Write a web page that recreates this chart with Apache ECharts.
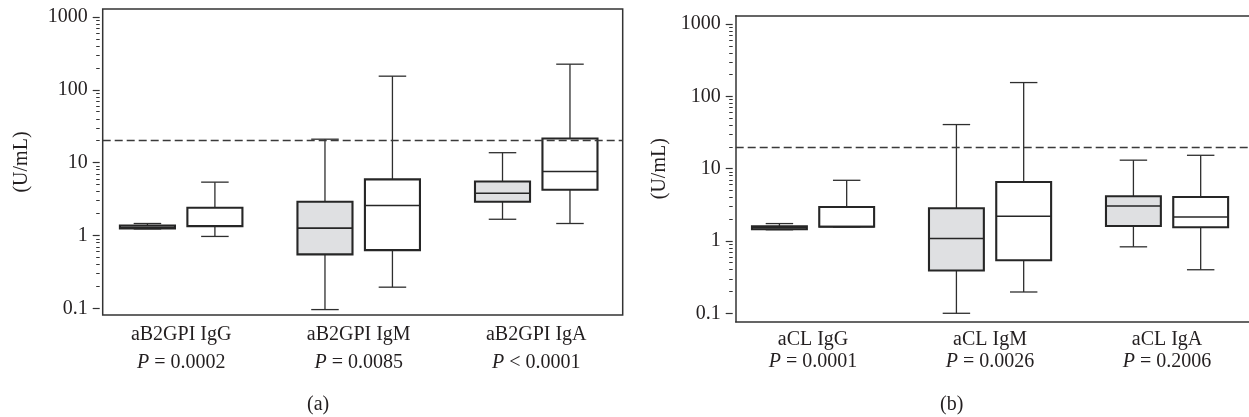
<!DOCTYPE html>
<html><head><meta charset="utf-8">
<script src="https://cdn.jsdelivr.net/npm/echarts@6/dist/echarts.min.js"></script>
<style>html,body{margin:0;padding:0;background:#fff}#c{width:1249px;height:417px}</style>
</head><body><div id="c"></div>
<script>
// ---- data (U/mL): [lower whisker, Q1, median, Q3, upper whisker] ----
const leftCategories = ['aB2GPI IgG', 'aB2GPI IgM', 'aB2GPI IgA'];
const leftPValues = ['= 0.0002', '= 0.0085', '< 0.0001'];
const leftGrey = [
  [1.23, 1.25, 1.3, 1.37, 1.46],
  [0.096, 0.55, 1.26, 2.9, 21],
  [1.67, 2.9, 3.8, 5.5, 13.7]
];
const leftWhite = [
  [0.97, 1.34, 1.36, 2.4, 5.4],
  [0.195, 0.63, 2.58, 5.9, 154],
  [1.46, 4.25, 7.57, 21.5, 225]
];
const rightCategories = ['aCL IgG', 'aCL IgM', 'aCL IgA'];
const rightPValues = ['= 0.0001', '= 0.0026', '= 0.2006'];
const rightGrey = [
  [1.43, 1.45, 1.52, 1.6, 1.74],
  [0.1, 0.39, 1.08, 2.83, 40.7],
  [0.83, 1.61, 3.05, 4.15, 13.1]
];
const rightWhite = [
  [1.56, 1.57, 1.58, 2.95, 6.9],
  [0.197, 0.54, 2.2, 6.55, 155],
  [0.40, 1.55, 2.15, 4.06, 15.3]
];
const cutoff = 20;
const majorTicks = [0.1, 1, 10, 100, 1000];
const minorTicks = [0.2,0.3,0.4,0.5,0.6,0.7,0.8,0.9, 2,3,4,5,6,7,8,9, 20,30,40,50,60,70,80,90, 200,300,400,500,600,700,800,900];
const panelLabels = ['(a)', '(b)'];

// ---- styling ----
const FONT = "'Liberation Serif', 'DejaVu Serif', serif";
const TXT = '#231f20';
const FRAME = { color: '#333', width: 1.5 };
const BOX_W = 0.31, CAP_W = 0.155, OFFSET = 0.19;

function makeRender(offset, fill) {
  return function (params, api) {
    const x = api.value(0) + offset;
    const lo = api.coord([x, api.value(1)]);
    const q1 = api.coord([x, api.value(2)]);
    const med = api.coord([x, api.value(3)]);
    const q3 = api.coord([x, api.value(4)]);
    const hi = api.coord([x, api.value(5)]);
    const l = api.coord([x - BOX_W / 2, api.value(3)])[0];
    const r = api.coord([x + BOX_W / 2, api.value(3)])[0];
    const cl = api.coord([x - CAP_W / 2, api.value(3)])[0];
    const cr = api.coord([x + CAP_W / 2, api.value(3)])[0];
    const cx = med[0];
    const wStyle = { stroke: '#2e2e2e', lineWidth: 1.3 };
    return {
      type: 'group',
      children: [
        { type: 'line', shape: { x1: cx, y1: q3[1], x2: cx, y2: hi[1] }, style: wStyle },
        { type: 'line', shape: { x1: cx, y1: q1[1], x2: cx, y2: lo[1] }, style: wStyle },
        { type: 'line', shape: { x1: cl, y1: hi[1], x2: cr, y2: hi[1] }, style: wStyle },
        { type: 'line', shape: { x1: cl, y1: lo[1], x2: cr, y2: lo[1] }, style: wStyle },
        { type: 'rect', shape: { x: l, y: q3[1], width: r - l, height: q1[1] - q3[1] },
          style: { fill: fill, stroke: '#262626', lineWidth: 2.1 } },
        { type: 'line', shape: { x1: l, y1: med[1], x2: r, y2: med[1] }, style: { stroke: '#262626', lineWidth: 1.6 } }
      ]
    };
  };
}

function xAxisFor(gridIndex, min, max, cats, ps, lh, margin, showLine) {
  return {
    type: 'value', gridIndex: gridIndex, min: min, max: max, position: 'bottom',
    axisLine: { show: showLine, lineStyle: FRAME }, axisTick: { show: false }, splitLine: { show: false },
    axisLabel: {
      customValues: [1, 2, 3], margin: margin,
      formatter: function (v) { const i = Math.round(v) - 1; return '{n|' + cats[i] + '}\n{i|P}{n| ' + ps[i] + '}'; },
      rich: {
        n: { fontFamily: FONT, fontSize: 20, color: TXT, lineHeight: lh },
        i: { fontFamily: FONT, fontSize: 20, color: TXT, fontStyle: 'italic', lineHeight: lh }
      }
    }
  };
}
function xFrameTop(gridIndex, min, max) {
  return {
    type: 'value', gridIndex: gridIndex, min: min, max: max, position: 'top',
    axisLine: { show: true, lineStyle: FRAME }, axisTick: { show: false }, axisLabel: { show: false }, splitLine: { show: false }
  };
}
function yAxisFor(gridIndex, min, max, nameGap, margin) {
  return {
    type: 'log', logBase: 10, gridIndex: gridIndex, min: min, max: max, offset: 3, position: 'left',
    name: '(U/mL)', nameLocation: 'middle', nameGap: nameGap,
    nameTextStyle: { fontFamily: FONT, fontSize: 20, color: TXT },
    axisLine: { show: false }, splitLine: { show: false },
    axisTick: { show: true, length: 7, customValues: majorTicks, lineStyle: { color: '#333', width: 1.2 } },
    axisLabel: { customValues: majorTicks, margin: margin, fontFamily: FONT, fontSize: 20, color: TXT,
      formatter: function (v) { return String(+v.toPrecision(3)); } }
  };
}
function yMinorFor(gridIndex, min, max) {
  return {
    type: 'log', logBase: 10, gridIndex: gridIndex, min: min, max: max, offset: 3, position: 'left',
    axisLine: { show: false }, splitLine: { show: false }, axisLabel: { show: false },
    axisTick: { show: true, length: 3.5, customValues: minorTicks, lineStyle: { color: '#333', width: 1 } }
  };
}
function yFrameLeft(gridIndex, min, max) {
  return {
    type: 'log', logBase: 10, gridIndex: gridIndex, min: min, max: max, offset: 0, position: 'left',
    axisLine: { show: true, lineStyle: FRAME }, splitLine: { show: false }, axisLabel: { show: false }, axisTick: { show: false }
  };
}
function boxSeries(xi, yi, data, offset, fill, withCutoff) {
  const s = {
    type: 'custom', xAxisIndex: xi, yAxisIndex: yi,
    data: data.map(function (d, i) { return [i + 1].concat(d); }),
    encode: { x: 0, y: [1, 2, 3, 4, 5] },
    renderItem: makeRender(offset, fill), silent: true, z: 2
  };
  if (withCutoff) {
    s.markLine = { silent: true, symbol: 'none', label: { show: false }, z: 3,
      lineStyle: { type: [8, 4], color: '#3a3a3a', width: 1.3 }, data: [{ yAxis: cutoff }] };
  }
  return s;
}

const chart = echarts.init(document.getElementById('c'), null, { renderer: 'canvas' });
chart.setOption({
  animation: false,
  backgroundColor: '#fff',
  title: [
    { text: panelLabels[0], left: 302, top: 390, textStyle: { fontFamily: FONT, fontSize: 20, fontWeight: 'normal', color: TXT } },
    { text: panelLabels[1], left: 935, top: 390, textStyle: { fontFamily: FONT, fontSize: 20, fontWeight: 'normal', color: TXT } }
  ],
  grid: [
    { left: 102.7, top: 9, width: 520, height: 306, show: true, borderColor: '#333', borderWidth: 1.5 },
    { left: 735.7, top: 15.7, width: 513.3, height: 306, show: false }
  ],
  xAxis: [
    xAxisFor(0, 0.558, 3.487, leftCategories, leftPValues, 28, 6, false),
    xAxisFor(1, 0.563, 3.463, rightCategories, rightPValues, 22, 7, true),
    xFrameTop(1, 0.563, 3.463)
  ],
  yAxis: [
    yAxisFor(0, 0.0809, 1288, 68, 12),
    yAxisFor(1, 0.0765, 1303, 63, 12),
    yMinorFor(0, 0.0809, 1288),
    yMinorFor(1, 0.0765, 1303),
    yFrameLeft(1, 0.0765, 1303)
  ],
  series: [
    boxSeries(0, 0, leftGrey, -OFFSET, '#dfe0e2', false),
    boxSeries(0, 0, leftWhite, OFFSET, '#ffffff', true),
    boxSeries(1, 1, rightGrey, -OFFSET, '#dfe0e2', false),
    boxSeries(1, 1, rightWhite, OFFSET, '#ffffff', true)
  ]
});
</script>
</body></html>
